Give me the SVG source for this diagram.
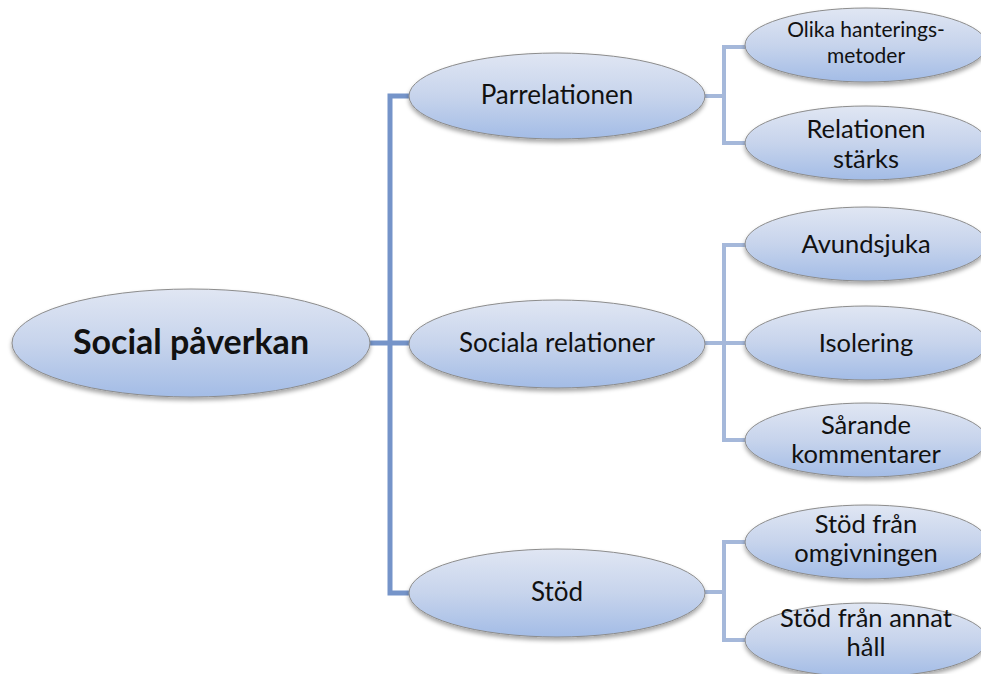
<svg xmlns="http://www.w3.org/2000/svg" width="981" height="674" viewBox="0 0 981 674">
<defs>
<linearGradient id="g" x1="0" y1="0" x2="0" y2="1">
<stop offset="0" stop-color="#e0e6f3"/>
<stop offset="0.5" stop-color="#c7d4ec"/>
<stop offset="1" stop-color="#a3bce6"/>
</linearGradient>
<filter id="sh" x="-10%" y="-20%" width="120%" height="150%">
<feDropShadow dx="0" dy="3" stdDeviation="2" flood-color="#000" flood-opacity="0.35"/>
</filter>
<style>
.n{fill:url(#g);stroke:#8c8c8c;stroke-width:1;filter:url(#sh)}
.t{font-family:Lato,"Open Sans",sans-serif;fill:#111;text-anchor:middle}
.main{font-size:34px;font-weight:bold}
.mid{font-size:26px}
.leaf{font-size:25.5px}
.small{font-size:21px}
.c1{stroke:#7594c9;stroke-width:5;fill:none}
.c2{stroke:#a5b8da;stroke-width:4;fill:none}
</style>
</defs>
<rect width="981" height="674" fill="#fff"/>
<g id="connectors">
<path class="c1" d="M368 343H412M409 96H390V593H412"/>
<path class="c2" d="M700 96H724M748 47H724V143H748"/>
<path class="c2" d="M700 343H748M748 245H724V440H748"/>
<path class="c2" d="M700 592H724M748 542H724V640H748"/>
</g>
<g id="n-social">
<ellipse class="n" cx="191" cy="343" rx="179" ry="54"/>
<text class="t main" x="191" y="354">Social påverkan</text>
</g>
<g id="n-parrelationen">
<ellipse class="n" cx="557" cy="96" rx="148" ry="43"/>
<text class="t mid" x="557" y="104">Parrelationen</text>
</g>
<g id="n-sociala">
<ellipse class="n" cx="557" cy="344" rx="148" ry="44"/>
<text class="t mid" x="557" y="352">Sociala relationer</text>
</g>
<g id="n-stod">
<ellipse class="n" cx="557" cy="593" rx="148" ry="44"/>
<text class="t mid" x="557" y="601">Stöd</text>
</g>
<g id="n-olika">
<ellipse class="n" cx="866" cy="45" rx="121" ry="37"/>
<text class="t small" x="866" y="37">Olika hanterings-</text>
<text class="t small" x="866" y="63">metoder</text>
</g>
<g id="n-relationen">
<ellipse class="n" cx="866" cy="143" rx="121" ry="37"/>
<text class="t leaf" x="866" y="138">Relationen</text>
<text class="t leaf" x="866" y="168">stärks</text>
</g>
<g id="n-avundsjuka">
<ellipse class="n" cx="866" cy="244" rx="121" ry="37"/>
<text class="t leaf" x="866" y="253">Avundsjuka</text>
</g>
<g id="n-isolering">
<ellipse class="n" cx="866" cy="343" rx="121" ry="37"/>
<text class="t leaf" x="866" y="352">Isolering</text>
</g>
<g id="n-sarande">
<ellipse class="n" cx="866" cy="440" rx="121" ry="37"/>
<text class="t leaf" x="866" y="434">Sårande</text>
<text class="t leaf" x="866" y="463">kommentarer</text>
</g>
<g id="n-omgivningen">
<ellipse class="n" cx="866" cy="542" rx="121" ry="37"/>
<text class="t leaf" x="866" y="533">Stöd från</text>
<text class="t leaf" x="866" y="562">omgivningen</text>
</g>
<g id="n-annat">
<ellipse class="n" cx="866" cy="640" rx="121" ry="37"/>
<text class="t leaf" x="866" y="627">Stöd från annat</text>
<text class="t leaf" x="866" y="656">håll</text>
</g>
</svg>
